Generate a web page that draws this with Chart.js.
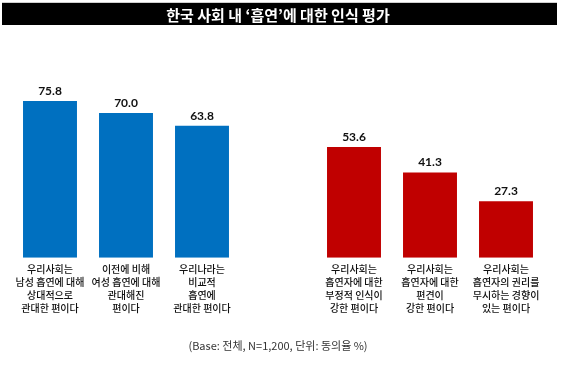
<!DOCTYPE html>
<html>
<head>
  <meta charset="UTF-8">
  <title>한국 사회 내 '흡연'에 대한 인식 평가</title>
  <script src="https://cdn.jsdelivr.net/npm/chart.js"></script>
  <style>
    body { margin: 0; background: #fff; }
    #wrap { width: 563px; height: 366px; position: relative; }
  </style>
</head>
<body>
  <div id="wrap"><canvas id="smokeChart"></canvas></div>

  <script>
    const titleText = '한국 사회 내 ‘흡연’에 대한 인식 평가';
    const footText = '(Base: 전체, N=1,200, 단위: 동의율 %)';

    // empty slot in the middle separates the two groups
    const categories = [
      ['우리사회는', '남성 흡연에 대해', '상대적으로', '관대한 편이다'],
      ['이전에 비해', '여성 흡연에 대해', '관대해진', '편이다'],
      ['우리나라는', '비교적', '흡연에', '관대한 편이다'],
      '',
      ['우리사회는', '흡연자에 대한', '부정적 인식이', '강한 편이다'],
      ['우리사회는', '흡연자에 대한', '편견이', '강한 편이다'],
      ['우리사회는', '흡연자의 권리를', '무시하는 경향이', '있는 편이다']
    ];
    const agreeRate = [75.8, 70.0, 63.8, null, 53.6, 41.3, 27.3];
    const group = ['tolerant', 'tolerant', 'tolerant', null, 'negative', 'negative', 'negative'];

    const groupColor = { tolerant: '#0070C0', negative: '#C00000' };

    const titleBand = {
      id: 'titleBand',
      beforeDraw(chart) {
        const t = chart.titleBlock;
        const ctx = chart.ctx;
        ctx.save();
        ctx.fillStyle = '#cfcfcf';
        ctx.fillRect(2, t.top + 2, chart.width - 8, 1);
        ctx.fillStyle = '#000';
        ctx.fillRect(2, t.top + 3, chart.width - 8, 22);
        ctx.restore();
      }
    };

    const valueLabels = {
      id: 'valueLabels',
      afterDatasetsDraw(chart) {
        const ctx = chart.ctx;
        const meta = chart.getDatasetMeta(0);
        ctx.save();
        ctx.font = 'bold 12px Lato, "Noto Sans", sans-serif';
        ctx.fillStyle = '#111';
        ctx.textAlign = 'center';
        ctx.textBaseline = 'alphabetic';
        meta.data.forEach((bar, i) => {
          const v = agreeRate[i];
          if (v == null) return;
          ctx.fillText(v.toFixed(1), bar.x, bar.y - 6);
        });
        ctx.restore();
      }
    };

    new Chart(document.getElementById('smokeChart'), {
      type: 'bar',
      data: {
        labels: categories,
        datasets: [{
          data: agreeRate,
          backgroundColor: group.map(g => g ? groupColor[g] : 'transparent'),
          barPercentage: 0.71,
          categoryPercentage: 1
        }]
      },
      options: {
        responsive: true,
        maintainAspectRatio: false,
        animation: false,
        layout: { padding: { left: 12, right: 19, top: 0, bottom: 0 } },
        plugins: {
          legend: { display: false },
          tooltip: { enabled: false },
          title: {
            display: true,
            text: titleText,
            color: '#fff',
            font: { family: '"Noto Sans CJK KR", sans-serif', size: 15, weight: 'bold' },
            padding: { top: 6, bottom: 27 }
          },
          subtitle: {
            display: true,
            position: 'bottom',
            text: footText,
            color: '#333',
            font: { family: '"Noto Sans CJK KR", sans-serif', size: 11 },
            padding: { top: 19, bottom: 14 }
          }
        },
        scales: {
          x: {
            grid: { display: false, drawTicks: false },
            border: { display: false },
            ticks: {
              autoSkip: false,
              maxRotation: 0,
              padding: 5,
              color: '#111',
              font: { family: '"Noto Sans CJK KR", sans-serif', size: 10, weight: '500', lineHeight: 1.3 }
            }
          },
          y: {
            display: false,
            min: 0,
            max: 100
          }
        }
      },
      plugins: [titleBand, valueLabels]
    });
  </script>
</body>
</html>
